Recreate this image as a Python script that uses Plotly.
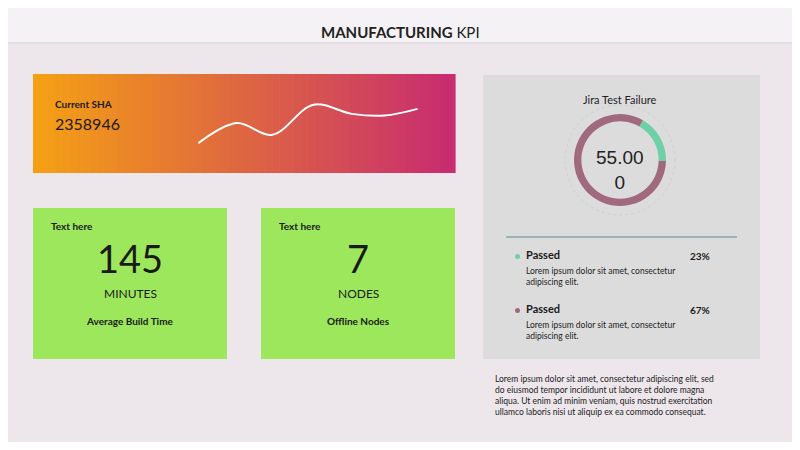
import plotly.graph_objects as go

W, H = 800, 450
OFF = 8  # browser page margin

# sparkline data (Current SHA trend)
spark_x = [0, 1.4, 2.7, 4.2, 5.6, 6.8, 8.0]
spark_y = [0.0, 2.4, 1.0, 4.6, 3.5, 3.3, 4.1]

# donut data (Jira Test Failure)
donut_labels = ["Passed", "Failed"]
donut_values = [17, 83]
donut_colors = ["#6fd0a8", "#a0697e"]

# legend entries
legend_pcts = ["23%", "67%"]
kpi_values = ["145", "7"]
kpi_units = ["MINUTES", "NODES"]
kpi_names = ["Average Build Time", "Offline Nodes"]

FONT = "Lato"
FW, FH = W - 2 * OFF, H - 2 * OFF


def px(x):
    return (x - OFF) / FW


def py(y):
    return 1 - (y - OFF) / FH


shapes = []
ann = []


def rect(x0, y0, x1, y1, color):
    shapes.append(dict(type="rect", xref="paper", yref="paper",
                       x0=px(x0), x1=px(x1), y0=py(y1), y1=py(y0),
                       fillcolor=color, line=dict(width=0), layer="below"))


def text(x, y, s, size=10, color="#222", bold=False, anchor="left", fam=FONT):
    ann.append(dict(xref="paper", yref="paper", x=px(x), y=py(y), text=f"<b>{s}</b>" if bold else s,
                    showarrow=False, xanchor=anchor, yanchor="middle", align=anchor if anchor != "right" else "right",
                    font=dict(size=size, color=color, family=fam)))


# header
rect(0, 0, 800, 42, "#f4f2f4")
rect(0, 42, 800, 44, "#e4dee2")
ann.append(dict(xref="paper", yref="paper", x=px(400), y=py(21), showarrow=False,
                text="<b>MANUFACTURING</b> KPI", font=dict(size=15, color="#222", family=FONT)))

# gradient card
n = 60
c0, c1 = (245, 160, 20), (200, 45, 112)
for i in range(n):
    t = i / (n - 1)
    col = "rgb(%d,%d,%d)" % tuple(int(a + (b - a) * t) for a, b in zip(c0, c1))
    x0 = 33 + (455 - 33) * i / n
    rect(x0, 74, x0 + (455 - 33) / n + 0.6, 173, col)
text(53, 104, "Current SHA", 10, "#1a1a1a", True)
text(53, 123, "2358946", 16, "#1a1a1a")

# KPI cards
for i, x0 in enumerate([33, 261]):
    rect(x0, 208, x0 + 194, 359, "#9de75c")
    cx = x0 + 97
    text(x0 + 16, 226, "Text here", 10, "#1a1a1a", True)
    text(cx, 258, kpi_values[i], 38, "#1a1a1a", anchor="center")
    text(cx, 293, kpi_units[i], 12, "#1a1a1a", anchor="center")
    text(cx, 321, kpi_names[i], 10, "#1a1a1a", True, anchor="center")

# right panel
rect(483, 75, 760, 359, "#dcdcdc")
text(620, 99, "Jira Test Failure", 11, "#222", anchor="center")
shapes.append(dict(type="circle", xref="paper", yref="paper", x0=px(565), x1=px(675),
                   y0=py(215), y1=py(105), line=dict(color="#cfcfcf", width=1, dash="dot")))
shapes.append(dict(type="line", xref="paper", yref="paper", x0=px(506), x1=px(737),
                   y0=py(237), y1=py(237), line=dict(color="#5f8a8c", width=1)))
text(620, 170, "55.00<br>0", 19, "#222", anchor="center", fam="Liberation Sans")
for i, (yy, col) in enumerate([(254, donut_colors[0]), (308, donut_colors[1])]):
    shapes.append(dict(type="circle", xref="paper", yref="paper", x0=px(515), x1=px(520),
                       y0=py(yy + 5), y1=py(yy), fillcolor=col, line=dict(width=0)))
    text(524, yy, "Passed", 11, "#1a1a1a", True)
    text(712, yy + 2, legend_pcts[i], 10, "#1a1a1a", True, anchor="right")
    text(524, yy + 22, "Lorem ipsum dolor sit amet, consectetur<br>adipiscing elit.", 8.5, "#222")

ann.append(dict(xref="paper", yref="paper", x=px(493), y=py(395), showarrow=False, xanchor="left",
                yanchor="middle", align="left",
                text="Lorem ipsum dolor sit amet, consectetur adipiscing elit, sed<br>"
                     "do eiusmod tempor incididunt ut labore et dolore magna<br>"
                     "aliqua. Ut enim ad minim veniam, quis nostrud exercitation<br>"
                     "ullamco laboris nisi ut aliquip ex ea commodo consequat.",
                font=dict(size=8.5, color="#222", family=FONT)))

fig = go.Figure()
fig.add_trace(go.Scatter(x=spark_x, y=spark_y, mode="lines", line=dict(color="white", width=2, shape="spline"),
                         hoverinfo="skip", showlegend=False))
fig.add_trace(go.Pie(labels=donut_labels, values=donut_values, hole=0.84, sort=False, direction="clockwise",
                     rotation=30, marker=dict(colors=donut_colors), textinfo="none", showlegend=False,
                     domain=dict(x=[px(574), px(666)], y=[py(206), py(114)])))

fig.update_layout(
    width=FW, height=FH, margin=dict(l=0, r=0, t=0, b=0),
    paper_bgcolor="#ede7eb", plot_bgcolor="rgba(0,0,0,0)",
    xaxis=dict(domain=[px(197), px(419)], visible=False, range=[-0.05, 8.05]),
    yaxis=dict(domain=[py(144), py(103)], visible=False, range=[-0.1, 4.8]),
    shapes=shapes, annotations=ann,
)

fig.write_html("out.html")
